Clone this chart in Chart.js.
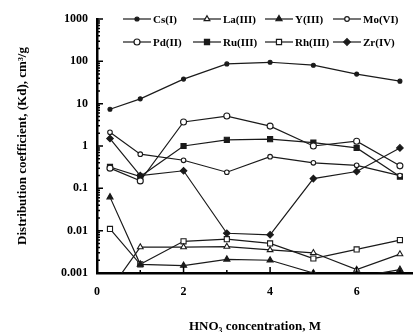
<!DOCTYPE html>
<html>
<head>
<meta charset="utf-8">
<script src="https://cdn.jsdelivr.net/npm/chart.js@4.4.1/dist/chart.umd.min.js"></script>
<style>
  html, body { margin: 0; padding: 0; background: #fff; }
  #wrap { width: 418px; height: 332px; }
</style>
</head>
<body>
<div id="wrap"><canvas id="kd" width="418" height="332"></canvas></div>
<script>
// HNO3 concentration (M)
var hno3 = [0.3, 1, 2, 3, 4, 5, 6, 7];

// Kd values, cm3/g
var csI   = [7.4, 13, 38, 87, 95, 81, 50, 34];
var laIII = [0.0004, 0.0041, 0.0041, 0.0042, 0.0035, 0.003, 0.0012, 0.0028];
var yIII  = [0.062, 0.0016, 0.0015, 0.0021, 0.002, 0.001, 0.0008, 0.0012];
var moVI  = [2.1, 0.64, 0.46, 0.24, 0.56, 0.4, 0.35, 0.2];
var pdII  = [0.3, 0.15, 3.7, 5.1, 2.95, 1.0, 1.3, 0.34];
var ruIII = [0.32, 0.19, 1.0, 1.4, 1.45, 1.2, 0.9, 0.19];
var rhIII = [0.011, 0.0016, 0.0056, 0.0063, 0.005, 0.0022, 0.0036, 0.006];
var zrIV  = [1.5, 0.2, 0.26, 0.0087, 0.008, 0.17, 0.25, 0.9];

var seriesNames = ['Cs(I)', 'La(III)', 'Y(III)', 'Mo(VI)', 'Pd(II)', 'Ru(III)', 'Rh(III)', 'Zr(IV)'];

// axis ticks
var xTicks = [0, 2, 4, 6];
var xMinorTicks = [1, 3, 5, 7];
var yTicks = [0.001, 0.01, 0.1, 1, 10, 100, 1000];
var yTickLabels = ['0.001', '0.01', '0.1', '1', '10', '100', '1000'];

var ink = '#1a1a1a';
var serif = "'Liberation Serif', 'Times New Roman', serif";

function pts(vals) {
    return vals.map(function (v, i) { return { x: hno3[i], y: v }; });
}

function series(label, vals, style, radius, filled) {
    return {
        label: label,
        data: pts(vals),
        borderColor: ink,
        borderWidth: 1.2,
        pointStyle: style,
        pointRadius: radius,
        pointBorderWidth: 1.1,
        pointBorderColor: ink,
        pointBackgroundColor: filled ? ink : '#fff',
        tension: 0
    };
}

var datasets = [
    series(seriesNames[0], csI, 'circle', 2, true),
    series(seriesNames[1], laIII, 'triangle', 3.3, false),
    series(seriesNames[2], yIII, 'triangle', 3.5, true),
    series(seriesNames[3], moVI, 'circle', 2.3, false),
    series(seriesNames[4], pdII, 'circle', 3, false),
    series(seriesNames[5], ruIII, 'rect', 3.6, true),
    series(seriesNames[6], rhIII, 'rect', 3.6, false),
    series(seriesNames[7], zrIV, 'rectRot', 3.3, true)
];

// little inward ticks on both axes
var innerTicks = {
    id: 'innerTicks',
    afterDatasetsDraw: function (chart) {
        var ctx = chart.ctx;
        var area = chart.chartArea;
        var xs = chart.scales.x, ys = chart.scales.y;
        ctx.save();
        ctx.strokeStyle = '#000';
        ctx.lineWidth = 1.5;
        ctx.beginPath();
        yTicks.forEach(function (d, k) {
            var py = ys.getPixelForValue(d);
            ctx.moveTo(area.left, py);
            ctx.lineTo(area.left + 6, py);
            if (k < yTicks.length - 1) {
                for (var m = 2; m <= 9; m++) {
                    var my = ys.getPixelForValue(d * m);
                    ctx.moveTo(area.left, my);
                    ctx.lineTo(area.left + 3, my);
                }
            }
        });
        xTicks.forEach(function (v) {
            var px = xs.getPixelForValue(v);
            ctx.moveTo(px, area.bottom);
            ctx.lineTo(px, area.bottom - 6);
        });
        xMinorTicks.forEach(function (v) {
            var px = xs.getPixelForValue(v);
            ctx.moveTo(px, area.bottom);
            ctx.lineTo(px, area.bottom - 3);
        });
        ctx.stroke();
        ctx.restore();
    }
};

// legend: line sample with marker, 4 columns x 2 rows inside the plot
var lineLegend = {
    id: 'lineLegend',
    afterDraw: function (chart) {
        var ctx = chart.ctx;
        var area = chart.chartArea;
        var colX = [26, 96, 168, 236];
        var rowY = [0, 23];
        var sample = 28;
        ctx.save();
        ctx.font = 'bold 11px ' + serif;
        ctx.textBaseline = 'middle';
        ctx.fillStyle = '#000';
        chart.data.datasets.forEach(function (ds, i) {
            var col = i % 4, row = Math.floor(i / 4);
            var x0 = area.left + colX[col];
            var y0 = area.top + rowY[row];
            ctx.strokeStyle = ink;
            ctx.lineWidth = 1.2;
            ctx.beginPath();
            ctx.moveTo(x0, y0);
            ctx.lineTo(x0 + sample, y0);
            ctx.stroke();
            ctx.fillStyle = ds.pointBackgroundColor;
            Chart.helpers.drawPoint(ctx, {
                pointStyle: ds.pointStyle,
                radius: ds.pointRadius,
                rotation: 0,
                borderWidth: ds.pointBorderWidth
            }, x0 + sample / 2, y0);
            ctx.fillStyle = '#000';
            ctx.fillText(ds.label, x0 + sample + 2, y0 + 1);
        });
        ctx.restore();
    }
};

new Chart(document.getElementById('kd'), {
    type: 'line',
    data: { datasets: datasets },
    plugins: [innerTicks, lineLegend],
    options: {
        responsive: false,
        animation: false,
        layout: { padding: { top: 19, right: 0, left: 0, bottom: 0 } },
        plugins: {
            legend: { display: false },
            tooltip: { enabled: false }
        },
        scales: {
            x: {
                type: 'linear',
                min: 0,
                max: 7.3,
                afterBuildTicks: function (s) {
                    s.ticks = xTicks.map(function (v) { return { value: v }; });
                },
                afterFit: function (s) { s.height = 59; },
                grid: { drawOnChartArea: false, drawTicks: false },
                border: { color: '#000', width: 2.5 },
                ticks: {
                    padding: 12,
                    color: '#000',
                    font: { family: serif, size: 12, weight: 'bold' }
                },
                title: {
                    display: true,
                    text: 'HNO₃ concentration, M',
                    color: '#000',
                    font: { family: serif, size: 13, weight: 'bold' },
                    padding: { top: 0, bottom: -2 }
                }
            },
            y: {
                type: 'logarithmic',
                min: 0.001,
                max: 1000,
                afterBuildTicks: function (s) {
                    s.ticks = yTicks.map(function (v) { return { value: v, major: true }; });
                },
                afterFit: function (s) { s.width = 97; },
                grid: { drawOnChartArea: false, drawTicks: false },
                border: { color: '#000', width: 2.5 },
                ticks: {
                    padding: 9,
                    color: '#000',
                    font: { family: serif, size: 12, weight: 'bold' },
                    callback: function (v) {
                        var k = yTicks.indexOf(v);
                        return k >= 0 ? yTickLabels[k] : '';
                    }
                },
                title: {
                    display: true,
                    text: 'Distribution coefficient, (Kd), cm³/g',
                    color: '#000',
                    font: { family: serif, size: 13, weight: 'bold' },
                    padding: { top: 15, bottom: 0 }
                }
            }
        }
    }
});
</script>
</body>
</html>
